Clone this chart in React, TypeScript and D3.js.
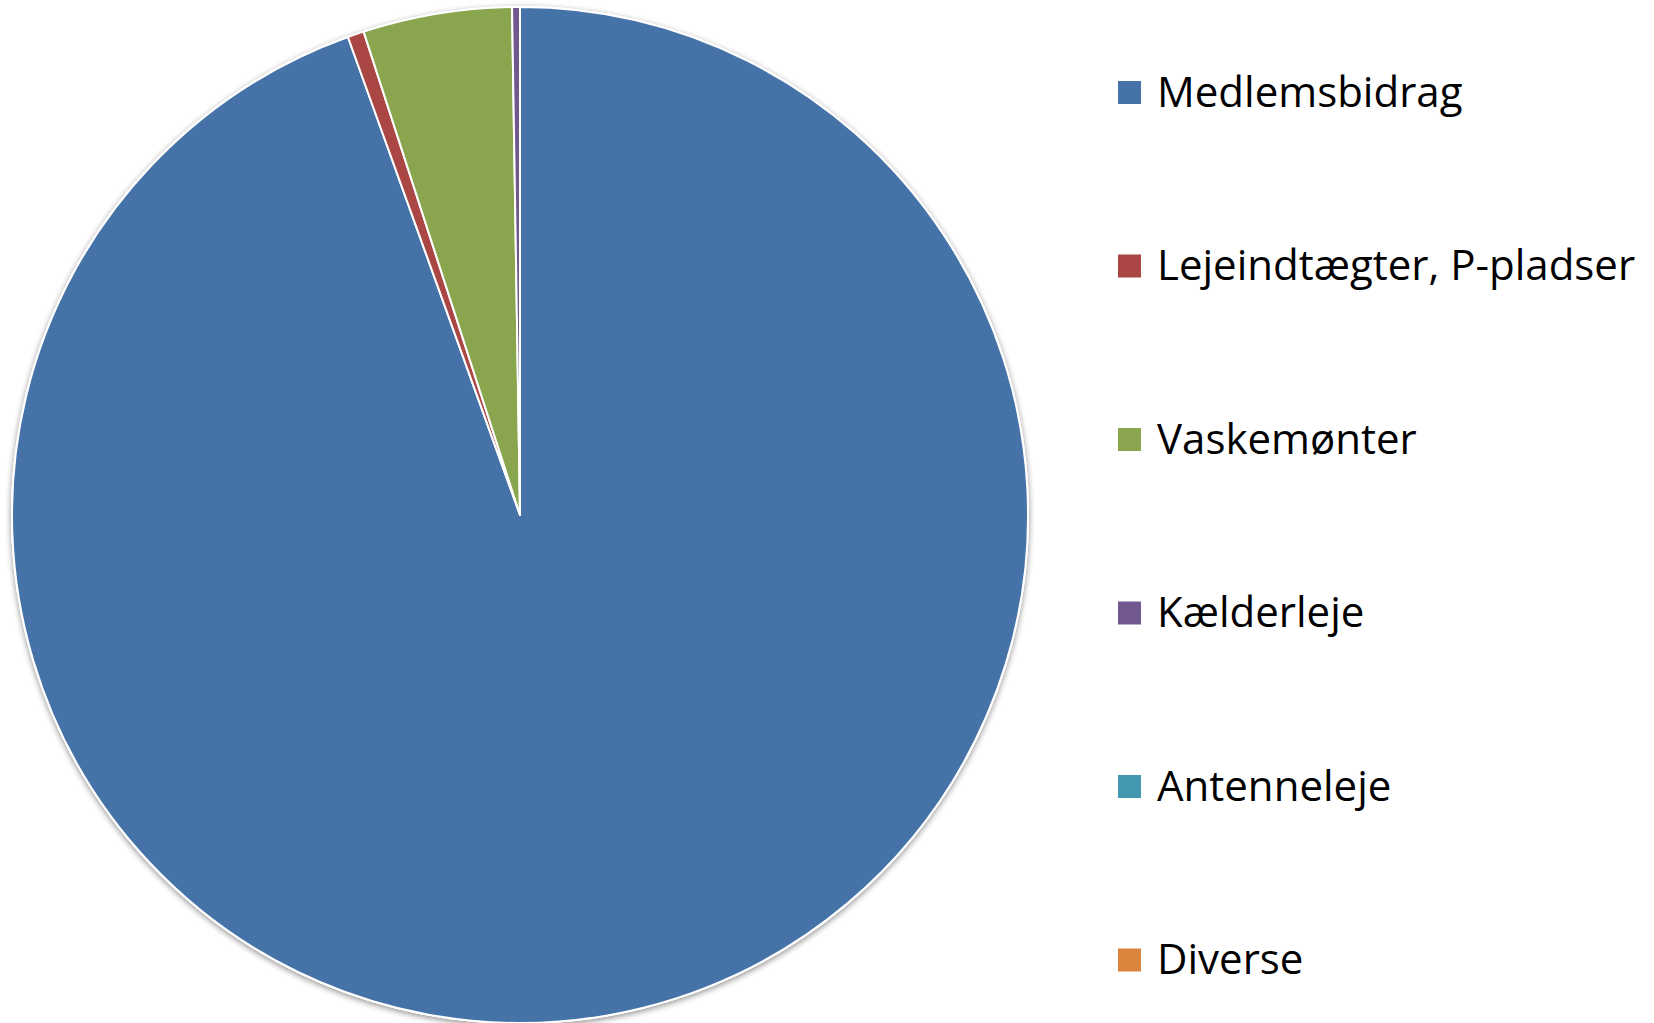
import React from "react";
import * as d3 from "d3";

const categories: string[] = [
  "Medlemsbidrag",
  "Lejeindtægter, P-pladser",
  "Vaskemønter",
  "Kælderleje",
  "Antenneleje",
  "Diverse",
];
const values: number[] = [94.5, 0.52, 4.73, 0.25, 0, 0];
const colors: string[] = ["#4572A7", "#AA4643", "#89A54E", "#71588F", "#4198AF", "#DB843D"];

const W = 1654;
const H = 1023;
const CX = 520;
const CY = 515;
const R = 508;

export default function App() {
  const pie = d3
    .pie<number>()
    .sort(null)
    .value((d) => d);
  const arcs = pie(values);
  const arcGen = d3.arc<d3.PieArcDatum<number>>().innerRadius(0).outerRadius(R);

  const legendX = 1118;
  const legendY0 = 106.5;
  const legendStep = 173.5;
  const sq = 23;

  return (
    <svg
      width={W}
      height={H}
      viewBox={`0 0 ${W} ${H}`}
      style={{ position: "absolute", left: 0, top: 0, background: "#fff" }}
    >
      <defs>
        <filter id="pieShadow" x="-10%" y="-10%" width="120%" height="120%">
          <feGaussianBlur in="SourceAlpha" stdDeviation="3" />
          <feOffset dx="0" dy="1.5" result="blur" />
          <feComponentTransfer>
            <feFuncA type="linear" slope="0.45" />
          </feComponentTransfer>
          <feMerge>
            <feMergeNode />
            <feMergeNode in="SourceGraphic" />
          </feMerge>
        </filter>
      </defs>
      <g transform={`translate(${CX},${CY})`}>
        <circle r={R + 1} fill="#fff" filter="url(#pieShadow)" />
        {arcs.map((a, i) =>
          a.value > 0 ? (
            <path
              key={i}
              d={arcGen(a) || ""}
              fill={colors[i]}
              stroke="#fff"
              strokeWidth={2}
              strokeLinejoin="round"
            />
          ) : null
        )}
      </g>
      <g fontFamily="'Open Sans', sans-serif" fontSize={42} fill="#000">
        {categories.map((c, i) => {
          const by = legendY0 + i * legendStep;
          return (
            <g key={c}>
              <rect
                x={legendX}
                y={by - 14 - sq / 2}
                width={sq}
                height={sq}
                fill={colors[i]}
              />
              <text x={1157} y={by}>
                {c}
              </text>
            </g>
          );
        })}
      </g>
    </svg>
  );
}
